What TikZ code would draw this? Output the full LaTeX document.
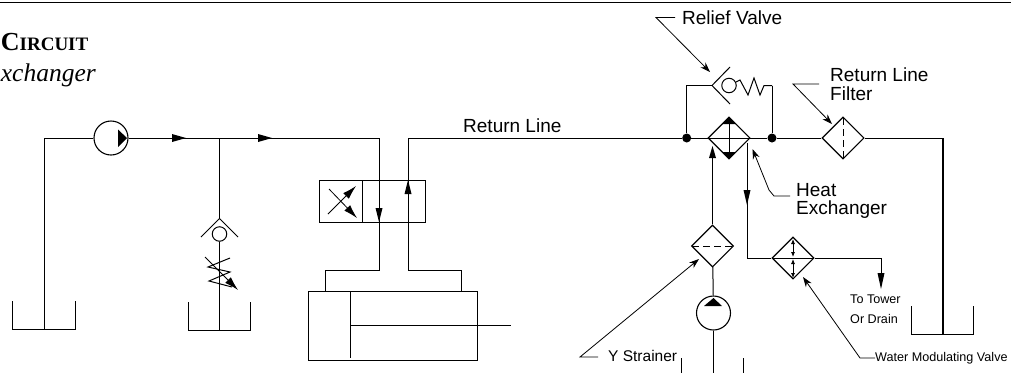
\documentclass[tikz,border=0pt]{standalone}
\usepackage{fontspec}
\setmainfont{Liberation Sans}
\newfontfamily\titlefont{Liberation Serif}
\usetikzlibrary{shapes.geometric,arrows.meta}
\tikzset{
  pipe/.style={line width=1pt},
  symb/.style={line width=1pt},
  leader/.style={line width=0.8pt,-{Stealth[length=10pt,width=7pt]}},
  tiparrow/.style={line width=0.8pt,-{Latex[length=14pt,width=8pt]}},
  twotip/.style={line width=0.8pt,{Latex[length=5pt,width=4pt]}-{Latex[length=5pt,width=4pt]}},
  box/.style={diamond,draw,line width=1.1pt,minimum size=42pt,inner sep=0pt,fill=white},
  pump/.style={circle,draw,line width=1.1pt,minimum size=34pt,inner sep=0pt},
  ball/.style={circle,draw,line width=1pt,minimum size=14.5pt,inner sep=0pt},
  dot/.style={circle,fill=black,minimum size=9pt,inner sep=0pt},
  lab/.style={anchor=west,inner sep=0pt,font=\fontsize{19}{21}\selectfont},
  slab/.style={anchor=west,inner sep=0pt,font=\fontsize{12.6}{14}\selectfont}
}
\begin{document}
\begin{tikzpicture}[x=1pt,y=-1pt]
   \useasboundingbox (0,0) rectangle (1011,373);
   \draw[line width=1.4pt] (0,2.5) -- (1011,2.5);

   \node[anchor=base east,inner sep=0pt,font=\titlefont\bfseries\fontsize{19}{22}\selectfont] (title) at (88.5,50.5) {{\fontsize{26}{29}\selectfont C}IRCUIT};
   \node[anchor=base east,inner sep=0pt,font=\titlefont\itshape\fontsize{25.5}{28}\selectfont] (subtitle) at (96,81) {xchanger};

   % main pump and relief branch
   \node[pump] (mainpump) at (111,138) {};
   \fill (118,129.5) -- (127,138) -- (118,147) -- cycle;
   \coordinate (tankA) at (44.5,329);
   \coordinate (teeA) at (219.5,138);
   \coordinate (pressA) at (379,138);
   \draw[pipe] (tankA) -- (44.5,138) -- (mainpump);
   \draw[pipe] (mainpump) -- (pressA);
   \fill (172,134) -- (186,138) -- (172,142) -- cycle;
   \fill (258,134) -- (272,138) -- (258,142) -- cycle;
   \draw[symb] (12.5,301) -- (12.5,329) -- (75,329) -- (75,301);

   \node[ball] (ballA) at (219.5,234) {};
   \coordinate (tankB) at (219.5,330);
   \draw[pipe] (teeA) -- (219.5,218.5);
   \draw[pipe] (ballA) -- (tankB);
   \draw[symb] (201,237) -- (219.5,218.5) -- (238,237);
   \draw[symb] (230,258) -- (208,267) -- (230,272) -- (209,281) -- (232,287);
   \draw[tiparrow] (205,257) -- (238,290);
   \draw[symb] (188,302) -- (188,330) -- (250,330) -- (250,302);

   % directional valve and cylinder
   \draw[symb] (319.5,180) rectangle (425,222.5);
   \draw[symb] (362.5,180) -- (362.5,222.5);
   \draw[tiparrow] (328,214) -- (356,186);
   \draw[tiparrow] (329,189) -- (357,218);
   \coordinate (portA) at (325,291);
   \coordinate (portB) at (461.5,291);
   \coordinate (retA) at (408,138);
   \draw[pipe] (pressA) -- (379,270) -- (325,270) -- (portA);
   \draw[pipe] (portB) -- (461.5,270) -- (408,270) -- (retA);
   \fill (375.5,208) -- (382.5,208) -- (379,222) -- cycle;
   \fill (404.5,194) -- (411.5,194) -- (408,180) -- cycle;
   \draw[pipe] (308.5,291) rectangle (477.5,360);
   \draw[pipe] (350.5,291) -- (350.5,358);
   \draw[symb] (350,325) -- (511,325);

   % return line, heat exchanger and filter
   \node[box] (exch) at (729,138) {};
   \node[box] (retfilter) at (843,138) {};
   \node[dot] (dotL) at (686.7,138) {};
   \node[dot] (dotR) at (772,138) {};
   \coordinate (tankC) at (943,334);
   \coordinate (elbowC) at (943,138);
   \draw[pipe] (retA) -- (dotL) -- (exch);
   \draw[pipe] (exch) -- (dotR) -- (retfilter);
   \draw[pipe] (exch.west) -- (exch.east);
   \draw[pipe] (retfilter) -- (elbowC);
   \draw[line width=1.3pt] (elbowC) -- (tankC);
   \draw[symb] (911,306) -- (911,334) -- (973.7,334) -- (973.7,306);
   \draw[symb,dash pattern=on 7pt off 4pt] (843,118) -- (843,158);
   \draw[symb] (729,120) -- (729,156);
   \fill (729,117) -- (736,124) -- (722,124) -- cycle;
   \fill (729,159) -- (736,152) -- (722,152) -- cycle;

   % relief valve
   \node[ball] (ballB) at (729,85.5) {};
   \draw[pipe] (dotL) -- (686.7,85.5) -- (712,85.5);
   \draw[symb] (730,67) -- (712,85.5) -- (730,104);
   \draw[symb] (ballB) -- (740,80) -- (748,95) -- (754,78) -- (760,95) -- (764,85.5) -- (772,85.5);
   \draw[pipe] (772,85.5) -- (dotR);

   % cooling circuit
   \node[box] (strainer) at (712.5,246) {};
   \node[box] (modvalve) at (793,258) {};
   \node[pump] (waterpump) at (713.5,313) {};
   \coordinate (outA) at (747,143);
   \coordinate (inA) at (712.5,147);
   \draw[pipe] (strainer) -- (inA);
   \fill (712.5,146) -- (716,158) -- (709,158) -- cycle;
   \draw[pipe] (waterpump) -- (strainer);
   \fill (713.5,298) -- (722,306) -- (704,306) -- cycle;
   \draw[line width=1.5pt] (waterpump) -- (713.5,373);
   \draw[symb] (681,358) -- (681,373);
   \draw[symb] (743,358) -- (743,373);
   \draw[symb,dash pattern=on 7pt off 4pt] (692,246) -- (733,246);
   \draw[pipe] (outA) -- (747,258) -- (modvalve);
   \fill (747,205) -- (743.5,190) -- (750.5,190) -- cycle;
   \draw[symb] (772,258) -- (814,258);
   \draw[twotip] (793,239) -- (793,257);
   \draw[twotip] (793,259) -- (793,278);
   \draw[pipe] (modvalve) -- (881,258) -- (881,273);
   \fill (881,289) -- (877.5,273) -- (884.5,273) -- cycle;

   % labels and leaders
   \node[lab] (retlabel) at (463,126) {Return Line};
   \node[lab] (relieflabel) at (682,17.5) {Relief Valve};
   \node[lab] (filterlabel) at (830,75) {Return Line};
   \node[lab] (filterlabelb) at (830,94) {Filter};
   \node[lab] (heatlabel) at (796,190.5) {Heat};
   \node[lab] (heatlabelb) at (796,210) {Exchanger};
   \node[anchor=west,inner sep=0pt,font=\fontsize{15.5}{17}\selectfont] (ylabel) at (608,356) {Y Strainer};
   \node[slab] (drainlabel) at (850,299) {To Tower};
   \node[slab] (drainlabelb) at (850,319) {Or Drain};
   \node[slab] (waterlabel) at (875,358) {Water Modulating Valve};
   \draw[leader] (relieflabel.west) ++(-7,0) -- ++(-19,0) -- (710,72);
   \draw[leader] (filterlabel.west) ++(-11,9) -- ++(-26,0) -- (832,124);
   \draw[leader] (heatlabel.west) ++(-6,5.5) -- ++(-16,0) -- (769,190) -- (752.5,149);
   \draw[leader] (ylabel.west) ++(-10,1) -- ++(-18,0) -- (699,259);
   \draw[leader] (waterlabel.west) -- (860,358) -- (803,277);
\end{tikzpicture}
\end{document}
